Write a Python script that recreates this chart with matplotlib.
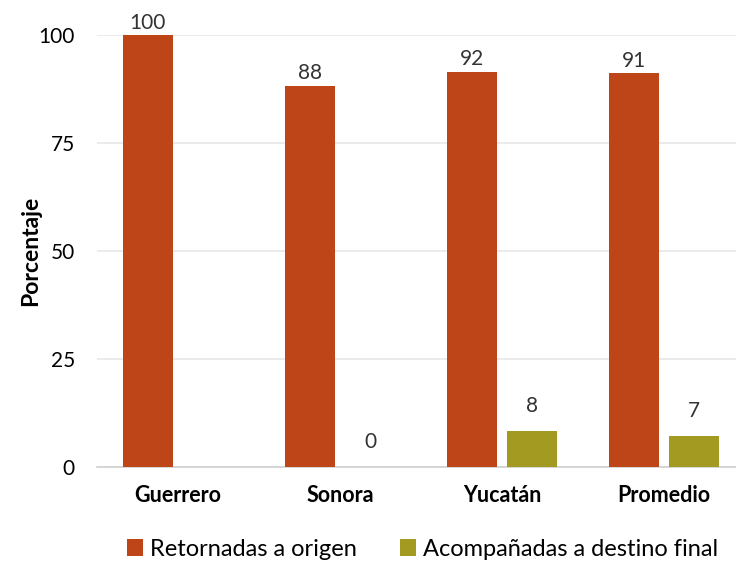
import numpy as np
import matplotlib
matplotlib.use("Agg")
import matplotlib.pyplot as plt

plt.rcParams.update({"font.family": ["Lato", "DejaVu Sans"]})

categorias = ["Guerrero", "Sonora", "Yucatán", "Promedio"]
retornadas = [100, 88.3, 91.5, 91.2]
retornadas_lbl = ["100", "88", "92", "91"]
acompanadas = [0, 0, 8.4, 7.1]
acompanadas_lbl = ["", "0", "8", "7"]

c_ret = "#bd4517"
c_aco = "#a39a22"

fig = plt.figure(figsize=(7.36, 5.66), dpi=100)
ax = fig.add_axes([0.132, 0.175, 0.868, 0.763])

x = np.arange(len(categorias))
w = 0.31
off = 0.187
b1 = ax.bar(x - off, retornadas, w, color=c_ret, label="Retornadas a origen", zorder=3)
b2 = ax.bar(x + off, acompanadas, w, color=c_aco, label="Acompañadas a destino final", zorder=3)

for xi, v, t in zip(x - off, retornadas, retornadas_lbl):
    ax.text(xi, v + 0.6, t, ha="center", va="bottom", fontsize=15, color="#333333")
for xi, v, t in zip(x + off, acompanadas, acompanadas_lbl):
    if t:
        ax.text(xi, v + 3.5, t, ha="center", va="bottom", fontsize=15, color="#333333")

ax.set_ylim(0, 100)
ax.set_xlim(-0.5, 3.445)
ax.set_yticks([0, 25, 50, 75, 100])
ax.set_xticks(x)
ax.set_xticklabels(categorias, fontweight="bold", fontsize=15.5)
ax.tick_params(axis="y", labelsize=15, length=0, pad=16)
ax.tick_params(axis="x", length=0, pad=13)
ax.grid(axis="y", color="#e8e8e8", linewidth=1.2, zorder=0)
for s in ["top", "right", "left"]:
    ax.spines[s].set_visible(False)
ax.spines["bottom"].set_color("#d0d0d0")
ax.spines["bottom"].set_linewidth(1.2)
ax.set_ylabel("Porcentaje", fontweight="bold", fontsize=16.5)
ax.yaxis.set_label_coords(-0.088, 0.5)

fig.legend(handles=[b1, b2], loc="center", bbox_to_anchor=(0.574, 0.03), ncol=2,
           frameon=False, fontsize=17, handlelength=0.7, handleheight=0.7,
           handletextpad=0.3, columnspacing=1.8)

fig.savefig("out.png", dpi=100)
